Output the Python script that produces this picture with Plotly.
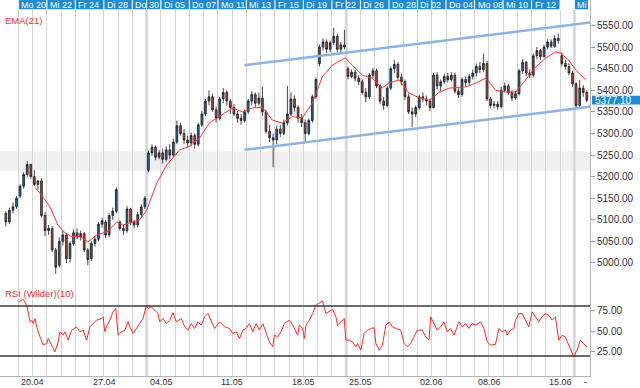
import plotly.graph_objects as go

# ---------------- data ----------------
BARS_PER_DAY = 4  # intraday bars per trading day

# trading days 0..40 : Fr 17.04 ... Mi 17.06 (holidays skipped)
opens = [
    5115, 5095, 5122, 5130,  5155, 5178, 5205, 5228,  5200, 5182, 5190, 5110,  5075, 5080, 5030, 4995,
    5050, 5065, 5010, 5045,  5070, 5060, 5068, 5030,  5010, 5045, 5055, 5090,  5095, 5065, 5110, 5120,
    5095, 5080, 5075, 5125,  5095, 5088, 5112, 5130,  5215, 5255, 5268, 5245,  5255, 5240, 5262, 5250,
    5280, 5318, 5300, 5285,  5278, 5295, 5275, 5320,  5345, 5375, 5385, 5355,  5335, 5380, 5395, 5375,
    5360, 5345, 5335, 5330,  5350, 5375, 5390, 5370,  5382, 5350, 5305, 5290,  5285, 5310, 5300, 5325,
    5345, 5380, 5360, 5335,  5325, 5300, 5330, 5385,  5462, 5500, 5512, 5495,  5510, 5525, 5495, 5505,
    5450, 5432, 5442, 5428,  5420, 5395, 5385, 5435,  5445, 5410, 5375, 5365,  5405, 5450, 5460, 5430,
    5420, 5385, 5350, 5345,  5360, 5385, 5380, 5375,  5360, 5435, 5410, 5420,  5432, 5425, 5435, 5398,
    5390, 5425, 5418, 5432,  5440, 5455, 5448, 5462,  5380, 5365, 5368, 5362,  5400, 5410, 5395, 5382,
    5392, 5445, 5465, 5440,  5435, 5480, 5492, 5478,  5500, 5512, 5502, 5520,  5480, 5462, 5455, 5440,
    5415, 5365, 5405, 5395,
]
highs = [
    5120, 5128, 5140, 5155,  5182, 5210, 5236, 5230,  5215, 5192, 5196, 5118,  5088, 5085, 5035, 5060,
    5075, 5070, 5050, 5078,  5080, 5075, 5072, 5035,  5050, 5062, 5095, 5105,  5100, 5115, 5128, 5175,
    5098, 5088, 5132, 5128,  5100, 5118, 5136, 5155,  5260, 5275, 5272, 5262,  5265, 5270, 5275, 5288,
    5330, 5325, 5310, 5295,  5302, 5300, 5325, 5352,  5380, 5400, 5392, 5362,  5385, 5405, 5400, 5380,
    5368, 5352, 5345, 5355,  5380, 5398, 5395, 5395,  5408, 5355, 5320, 5300,  5318, 5320, 5332, 5410,
    5395, 5388, 5365, 5345,  5332, 5335, 5390, 5430,  5505, 5520, 5518, 5515,  5545, 5530, 5512, 5540,
    5455, 5448, 5448, 5435,  5425, 5405, 5440, 5452,  5450, 5415, 5385, 5410,  5455, 5470, 5465, 5438,
    5425, 5392, 5360, 5365,  5390, 5395, 5388, 5380,  5440, 5442, 5425, 5438,  5440, 5442, 5440, 5405,
    5430, 5432, 5438, 5448,  5462, 5465, 5485, 5468,  5385, 5375, 5375, 5408,  5418, 5415, 5400, 5398,
    5450, 5472, 5468, 5448,  5485, 5500, 5496, 5505,  5518, 5518, 5528, 5530,  5488, 5470, 5462, 5445,
    5418, 5424, 5412, 5400,
]
lows = [
    5085, 5090, 5115, 5125,  5150, 5172, 5198, 5195,  5178, 5170, 5105, 5062,  5065, 5025, 4975, 4990,
    5040, 5000, 5002, 5040,  5055, 5052, 5025, 4995,  5005, 5038, 5050, 5082,  5058, 5060, 5100, 5115,
    5075, 5065, 5070, 5088,  5080, 5082, 5105, 5125,  5210, 5248, 5238, 5240,  5230, 5235, 5240, 5245,
    5275, 5295, 5275, 5268,  5270, 5265, 5270, 5315,  5340, 5365, 5350, 5325,  5330, 5370, 5365, 5345,
    5340, 5325, 5320, 5325,  5345, 5365, 5360, 5365,  5340, 5300, 5280, 5222,  5275, 5292, 5296, 5318,
    5340, 5350, 5325, 5315,  5278, 5295, 5325, 5380,  5455, 5492, 5485, 5488,  5505, 5488, 5485, 5495,
    5425, 5428, 5420, 5412,  5390, 5372, 5380, 5428,  5405, 5368, 5355, 5360,  5400, 5440, 5425, 5412,
    5378, 5345, 5315, 5338,  5355, 5372, 5365, 5352,  5358, 5402, 5398, 5415,  5418, 5420, 5392, 5382,
    5385, 5410, 5412, 5425,  5432, 5440, 5442, 5375,  5358, 5358, 5355, 5358,  5395, 5390, 5375, 5378,
    5388, 5438, 5432, 5428,  5430, 5472, 5470, 5475,  5495, 5498, 5498, 5508,  5455, 5448, 5435, 5408,
    5358, 5360, 5385, 5372,
]
closes = [
    5095, 5122, 5130, 5150,  5178, 5205, 5228, 5200,  5182, 5190, 5110, 5075,  5080, 5030, 4990, 5050,
    5065, 5010, 5045, 5070,  5060, 5068, 5030, 5008,  5045, 5055, 5090, 5098,  5065, 5110, 5120, 5170,
    5080, 5075, 5125, 5095,  5088, 5112, 5130, 5150,  5255, 5268, 5245, 5255,  5240, 5262, 5250, 5280,
    5318, 5300, 5285, 5278,  5295, 5275, 5320, 5345,  5375, 5385, 5355, 5335,  5380, 5395, 5375, 5360,
    5345, 5335, 5330, 5350,  5375, 5390, 5370, 5382,  5350, 5305, 5290, 5285,  5310, 5300, 5325, 5345,
    5380, 5360, 5335, 5325,  5300, 5330, 5385, 5425,  5500, 5512, 5495, 5510,  5525, 5495, 5505, 5500,
    5432, 5442, 5428, 5420,  5395, 5385, 5435, 5445,  5410, 5375, 5365, 5405,  5450, 5460, 5430, 5420,
    5385, 5350, 5345, 5360,  5385, 5380, 5375, 5360,  5435, 5410, 5420, 5432,  5425, 5435, 5398, 5390,
    5425, 5418, 5432, 5440,  5455, 5448, 5462, 5380,  5365, 5368, 5362, 5400,  5410, 5395, 5382, 5392,
    5445, 5465, 5440, 5435,  5480, 5492, 5478, 5500,  5512, 5502, 5520, 5515,  5462, 5455, 5440, 5415,
    5365, 5405, 5395, 5377.10,
]

# EMA(21) line (time in trading days)
ema_t = [2.17, 2.52, 3.22, 3.78, 4.27, 4.76, 5.32, 5.88, 6.51, 7.21, 7.91, 8.33, 9.03, 9.52, 10.0,
         10.71, 11.41, 12.32, 13.02, 13.72, 14.42, 15.12, 16.03, 16.72, 17.42, 18.12, 18.82, 19.52,
         20.22, 20.92, 21.62, 22.32, 23.02, 23.93, 24.42, 25.12, 25.82, 26.52, 27.01, 27.71, 28.41,
         29.11, 29.81, 30.51, 31.21, 32.4, 33.1, 33.8, 34.5, 35.2, 35.9, 36.6, 37.3, 38.0, 38.7,
         39.05, 39.6, 40.1, 40.8]
ema_v = [5175, 5162, 5130, 5088, 5070, 5061, 5062, 5049, 5065, 5072, 5095, 5088, 5095, 5100, 5122,
         5185, 5227, 5262, 5270, 5290, 5325, 5340, 5359, 5350, 5359, 5361, 5331, 5324, 5339, 5336,
         5370, 5431, 5458, 5475, 5458, 5435, 5428, 5405, 5417, 5424, 5393, 5383, 5377, 5395, 5405,
         5408, 5417, 5428, 5400, 5396, 5396, 5424, 5454, 5475, 5489, 5486, 5470, 5447, 5424]

# RSI (Wilder)(10)
rsi_t = [1.00, 1.35, 1.59, 1.70, 1.82, 1.94, 2.05, 2.17, 2.29, 2.52, 2.75, 2.99, 3.10, 3.34, 3.57,
         3.80, 3.92, 4.15, 4.27, 4.50, 4.74, 5.09, 5.32, 5.55, 5.79, 6.02, 6.25, 6.48, 6.83, 6.95,
         7.07, 7.18, 7.42, 7.65, 7.84, 8.00, 8.23, 8.47, 8.70, 8.82, 9.05, 9.28, 9.52, 9.75, 9.98,
         10.10, 10.33, 10.57, 10.80, 10.92, 11.15, 11.38, 11.62, 11.85, 12.08, 12.43, 12.67, 12.90,
         13.13, 13.37, 13.60, 13.83, 14.07, 14.30, 14.53, 14.77, 15.12, 15.47, 15.81, 16.05, 16.28,
         16.52, 16.75, 16.98, 17.21, 17.45, 17.68, 17.91, 18.15, 18.38, 18.61, 18.85, 18.96, 19.20,
         19.43, 19.66, 20.01, 20.25, 20.60, 20.71, 20.95, 21.06, 21.18, 21.41, 21.65, 21.88, 22.11,
         22.34, 22.58, 22.81, 23.04, 23.28, 23.39, 23.63, 23.86, 23.98, 24.21, 24.44, 24.68, 24.79,
         25.03, 25.26, 25.49, 25.73, 25.96, 26.08, 26.31, 26.54, 26.78, 27.01, 27.24, 27.48, 27.83,
         28.06, 28.29, 28.52, 28.76, 28.99, 29.34, 29.57, 29.81, 29.92, 30.16, 30.39, 30.62, 30.86,
         31.09, 31.32, 31.56, 31.91, 32.14, 32.37, 32.61, 32.84, 33.07, 33.42, 33.66, 33.89, 34.12,
         34.47, 34.71, 34.94, 35.17, 35.29, 35.52, 35.76, 35.87, 36.11, 36.34, 36.57, 36.81, 37.04,
         37.27, 37.51, 37.74, 37.97, 38.21, 38.44, 38.67, 38.91, 39.14, 39.37, 39.61, 39.96, 40.19,
         40.42, 40.65, 40.89]
rsi_v = [85, 88, 81, 73, 61, 63, 59, 65, 55, 43, 33, 35, 41, 33, 25, 37, 49, 45, 49, 39, 51, 55, 49,
         51, 39, 55, 59, 63, 65, 67, 49, 55, 63, 73, 77, 45, 49, 51, 61, 55, 47, 53, 59, 65, 81, 77,
         79, 75, 71, 61, 65, 59, 63, 72, 61, 65, 55, 51, 59, 53, 61, 57, 67, 71, 63, 53, 61, 55, 53,
         47, 49, 41, 51, 53, 59, 49, 59, 51, 59, 47, 37, 31, 45, 43, 49, 59, 63, 57, 45, 57, 53, 41,
         57, 63, 71, 81, 84,
         86, 71, 73, 76, 67, 57, 61, 65, 39, 39, 37, 31, 35, 27, 47, 51, 53, 54, 35, 27, 33, 57, 61,
         55, 53, 51, 35, 31, 35, 43, 51, 51, 43, 39, 67, 59, 51, 55, 61, 49, 53, 45, 61, 55, 59, 53,
         59, 57, 61, 53, 37, 33, 34, 53, 49, 51, 45, 51, 53, 63, 71, 71, 63, 55, 73, 67, 61, 67, 71,
         69, 63, 67, 39, 45, 43, 33, 19, 27, 39, 35, 31]

# hand-drawn trend channel (time in trading days, price)
upper_t = [16.86, 41.64]
upper_v = [5458, 5559]
lower_t = [16.86, 41.64]
lower_v = [5262, 5364]

# header day cells (start day, end day, label)
head_start = [1, 3, 5, 7, 9, 11, 13, 15, 17, 19, 21, 23, 25, 27, 29, 31, 33, 35, 37, 40]
head_end = [3, 5, 7, 9, 11, 13, 15, 17, 19, 21, 23, 25, 27, 29, 31, 33, 35, 37, 39, 41]
head_labels = ["Mo 20", "Mi 22", "Fr 24", "Di 28", "Do 30", "Di 05", "Do 07", "Mo 11", "Mi 13",
               "Fr 15", "Di 19", "Fr 22", "Di 26", "Do 28", "Di 02", "Do 04", "Mo 08", "Mi 10",
               "Fr 12", "Mi"]

# bottom week labels
week_start = [1, 6, 10, 15, 20, 24, 29, 33, 38]
week_labels = ["20.04", "27.04", "04.05", "11.05", "18.05", "25.05", "02.06", "08.06", "15.06"]

gap_days = [10, 24, 40]          # heavier separator lines
band_lo, band_hi = 5214, 5258    # grey horizontal zone
price_ticks = list(range(5000, 5551, 50))
rsi_ticks = [25, 50, 75]
rsi_levels = [80, 20]
last_price = 5377.10
n_days = 41

# ---------------- figure ----------------
FONT = "Liberation Sans, Arial, sans-serif"
bar_time = [(i + 0.5) / BARS_PER_DAY for i in range(len(closes))]
XR = [-0.284, 41.10]

fig = go.Figure()
fig.add_trace(go.Candlestick(
    x=bar_time, open=opens, high=highs, low=lows, close=closes,
    increasing=dict(fillcolor="#2464a8", line=dict(color="#1a1a1a", width=0.8)),
    decreasing=dict(fillcolor="#b6463e", line=dict(color="#1a1a1a", width=0.8)),
    whiskerwidth=0, showlegend=False, hoverinfo="skip", xaxis="x", yaxis="y"))
fig.add_trace(go.Scatter(x=ema_t, y=ema_v, mode="lines", line=dict(color="#ff3535", width=1),
                         showlegend=False, hoverinfo="skip", xaxis="x", yaxis="y"))
for tt, vv in ((upper_t, upper_v), (lower_t, lower_v)):
    fig.add_trace(go.Scatter(x=tt, y=vv, mode="lines", line=dict(color="#8cb2e8", width=2.5),
                             showlegend=False, hoverinfo="skip", xaxis="x", yaxis="y"))
fig.add_trace(go.Scatter(x=rsi_t, y=rsi_v, mode="lines", line=dict(color="#ff2a2a", width=1),
                         showlegend=False, hoverinfo="skip", xaxis="x2", yaxis="y2"))
fig.add_trace(go.Scatter(x=[0], y=[0.5], mode="markers", marker=dict(opacity=0),
                         showlegend=False, hoverinfo="skip", xaxis="x3", yaxis="y3"))

H = 376.0  # plot height in px (top margin 0, bottom margin 12)
def py(px):
    return (H - px) / H

gridx = dict(range=XR, tickvals=list(range(1, n_days)), showgrid=True, gridcolor="#d4d4d4",
             gridwidth=1, showticklabels=False, ticks="", zeroline=False)
yax = dict(side="right", showgrid=False, zeroline=False, tickformat=".2f", ticks="outside",
           ticklen=4, tickcolor="#9a9a9a", showline=True, linecolor="#b4b4b4",
           tickfont=dict(family=FONT, size=10, color="#333333"))

shapes = []
shapes.append(dict(type="rect", xref="paper", yref="y", x0=0, x1=1, y0=band_lo, y1=band_hi,
                   fillcolor="#efefef", line=dict(width=0), layer="below"))
for d in gap_days:
    shapes.append(dict(type="line", xref="x", yref="paper", x0=d, x1=d, y0=0, y1=py(10),
                       line=dict(color="#dddddd", width=3), layer="below"))
for lv in rsi_levels:
    shapes.append(dict(type="line", xref="paper", yref="y2", x0=0, x1=1, y0=lv, y1=lv,
                       line=dict(color="#3a3a3a", width=1.5)))
for s, e in zip(head_start, head_end):
    shapes.append(dict(type="rect", xref="x3", yref="y3", x0=s + 0.04, x1=e - 0.04, y0=0, y1=1,
                       fillcolor="#1f8ad2", line=dict(width=0)))
for d in [10, 24, 30]:
    shapes.append(dict(type="line", xref="x3", yref="y3", x0=d, x1=d, y0=0, y1=1,
                       line=dict(color="#ffffff", width=1)))
# last-price tag box on the right axis
shapes.append(dict(type="rect", xref="paper", yref="y", x0=592 / 590, x1=640 / 590,
                   y0=last_price - 10, y1=last_price + 10, fillcolor="#1f8ad2",
                   line=dict(width=0), layer="above"))

ann = []
for s, lab in zip(head_start, head_labels):
    ann.append(dict(xref="x3", yref="y3", x=s, y=0.5, xanchor="left", yanchor="middle", xshift=1,
                    text=lab, showarrow=False, font=dict(family=FONT, size=9, color="#ffffff")))
for s, lab in zip(week_start, week_labels):
    ann.append(dict(xref="x2", yref="paper", x=s, y=0, xanchor="left", yanchor="middle", xshift=2,
                    yshift=-6, borderpad=0, text=lab, showarrow=False,
                    font=dict(family=FONT, size=9, color="#333333")))
ann.append(dict(xref="x2", yref="paper", x=40, y=0, xanchor="left", yanchor="middle", xshift=9,
                yshift=-6, borderpad=0, text="-", showarrow=False,
                font=dict(family=FONT, size=9, color="#333333")))
ann.append(dict(xref="paper", yref="paper", x=0, y=py(20.5), xanchor="left", yanchor="middle",
                xshift=3, text="EMA(21)", showarrow=False,
                font=dict(family=FONT, size=9.5, color="#ee3333")))
ann.append(dict(xref="paper", yref="paper", x=0, y=py(293.5), xanchor="left", yanchor="middle",
                xshift=3, text="RSI (Wilder)(10)", showarrow=False,
                font=dict(family=FONT, size=9.5, color="#ee3333")))
ann.append(dict(xref="paper", yref="y", x=1, y=last_price, xanchor="left", yanchor="middle",
                xshift=4, text="%.2f" % last_price, showarrow=False, borderpad=0,
                font=dict(family=FONT, size=10, color="#ffffff")))

fig.update_layout(
    width=640, height=388,
    margin=dict(l=0, r=50, t=0, b=12),
    paper_bgcolor="#ffffff", plot_bgcolor="rgba(0,0,0,0)",
    showlegend=False, hovermode=False,
    font=dict(family=FONT, size=10, color="#333333"),
    xaxis=dict(**gridx, domain=[0, 1], anchor="y", rangeslider=dict(visible=False)),
    xaxis2=dict(**gridx, domain=[0, 1], anchor="y2", matches="x", showline=True,
                linecolor="#b4b4b4"),
    xaxis3=dict(range=XR, domain=[0, 1], anchor="y3", matches="x", showgrid=False,
                showticklabels=False, ticks="", zeroline=False),
    yaxis=dict(**yax, domain=[py(281), py(10)], range=[4958.3, 5585.9], tickvals=price_ticks,
               anchor="x"),
    yaxis2=dict(**yax, domain=[0, py(281)], range=[-4, 110], tickvals=rsi_ticks, anchor="x2"),
    yaxis3=dict(domain=[py(9.5), 1], range=[0, 1], side="right", showgrid=False,
                zeroline=False, showticklabels=False, ticks="", showline=True,
                linecolor="#b4b4b4", anchor="x3"),
    shapes=shapes, annotations=ann,
)

fig.write_html("out.html", config={"displayModeBar": False, "staticPlot": True},
               post_script="document.body.style.margin='0';document.body.style.overflow='hidden';")
